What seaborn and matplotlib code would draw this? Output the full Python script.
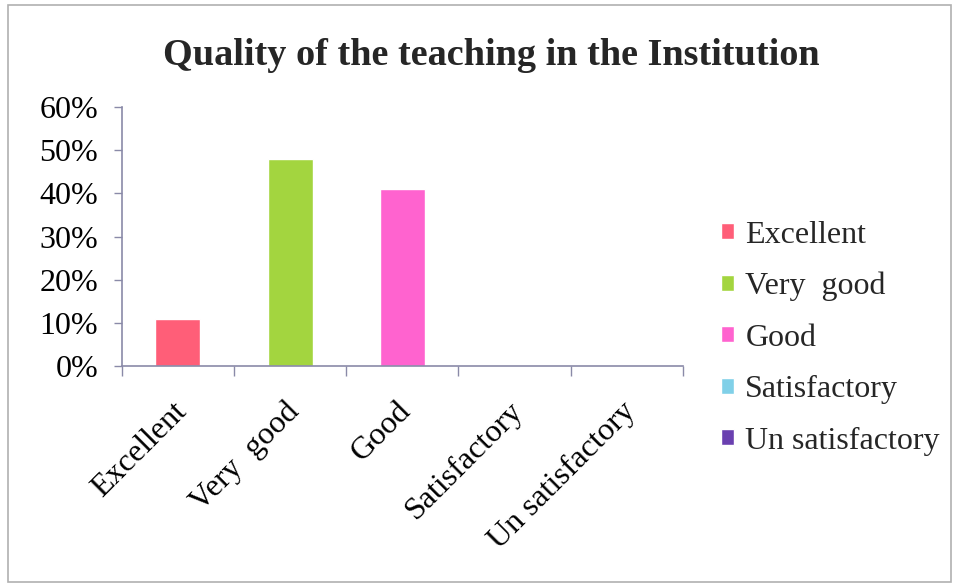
import numpy as np
import pandas as pd
import matplotlib
matplotlib.use("Agg")
import matplotlib.pyplot as plt
import matplotlib.transforms as mtransforms
import seaborn as sns
from matplotlib.ticker import PercentFormatter, FixedLocator
from matplotlib.patches import Rectangle

# dados
categorias = ["Excellent", "Very  good", "Good", "Satisfactory", "Un satisfactory"]
rotulos_x = ["Excellent", "Very  good", "Good", "Satisfactory", "Un satisfactory"]
valores = [0.11, 0.48, 0.41, 0.0, 0.0]
cores = ["#FF5E78", "#A3D53F", "#FF63CF", "#80D0E8", "#6A40B0"]

df = pd.DataFrame({"categoria": categorias, "valor": valores})

sns.set_theme(style="white")
plt.rcParams["font.family"] = ["Liberation Serif", "DejaVu Serif"]

fig = plt.figure(figsize=(9.59, 5.87), dpi=100)
ax = fig.add_axes([0.127, 0.3765, 0.585, 0.4412])

sns.barplot(data=df, x="categoria", y="valor", hue="categoria",
            palette=cores, dodge=False, width=0.4, legend=True, ax=ax,
            saturation=1)

ax.set_ylim(0, 0.6)
ax.set_xlim(-0.5, len(categorias) - 0.5)
ax.yaxis.set_major_formatter(PercentFormatter(1.0, decimals=0))
ax.set_yticks(np.arange(0, 0.61, 0.1))
ax.set_xlabel("")
ax.set_ylabel("")

# eixos estilo Excel
cor_eixo = "#8A8AA8"
for lado in ["top", "right"]:
    ax.spines[lado].set_visible(False)
for lado in ["left", "bottom"]:
    ax.spines[lado].set_color(cor_eixo)
    ax.spines[lado].set_linewidth(1.2)

ax.tick_params(axis="y", which="major", left=True, length=6, width=1,
               color=cor_eixo, labelsize=23, pad=11, labelcolor="black")
ax.set_xticks(range(len(categorias)))
ax.set_xticklabels(rotulos_x, rotation=45, ha="right", rotation_mode="anchor",
                   fontsize=23)
ax.tick_params(axis="x", which="major", length=0, pad=22, labelcolor="black")
ax.xaxis.set_minor_locator(FixedLocator(np.arange(-0.5, len(categorias), 1.0)))
ax.tick_params(axis="x", which="minor", bottom=True, length=7, width=1,
               color=cor_eixo)

# desloca os rótulos do eixo x um pouco para a esquerda
desloc = mtransforms.ScaledTranslation(-6 / 100, 0, fig.dpi_scale_trans)
for rotulo in ax.get_xticklabels():
    rotulo.set_transform(rotulo.get_transform() + desloc)

ax.set_title("Quality of the teaching in the Institution", fontsize=27.5,
             fontweight="bold", x=0.658, y=1.0, pad=30)

leg = ax.legend(loc="center left", bbox_to_anchor=(1.0175, 0.108), frameon=False,
                fontsize=23, handlelength=0.4, handleheight=0.4,
                handletextpad=0.35, labelspacing=0.7)

# moldura externa
fig.patches.append(Rectangle((0.008, 0.008), 0.984, 0.984, transform=fig.transFigure,
                             fill=False, edgecolor="#B0B0B0", linewidth=1.2))

fig.savefig("out.png", dpi=100)
plt.close(fig)
